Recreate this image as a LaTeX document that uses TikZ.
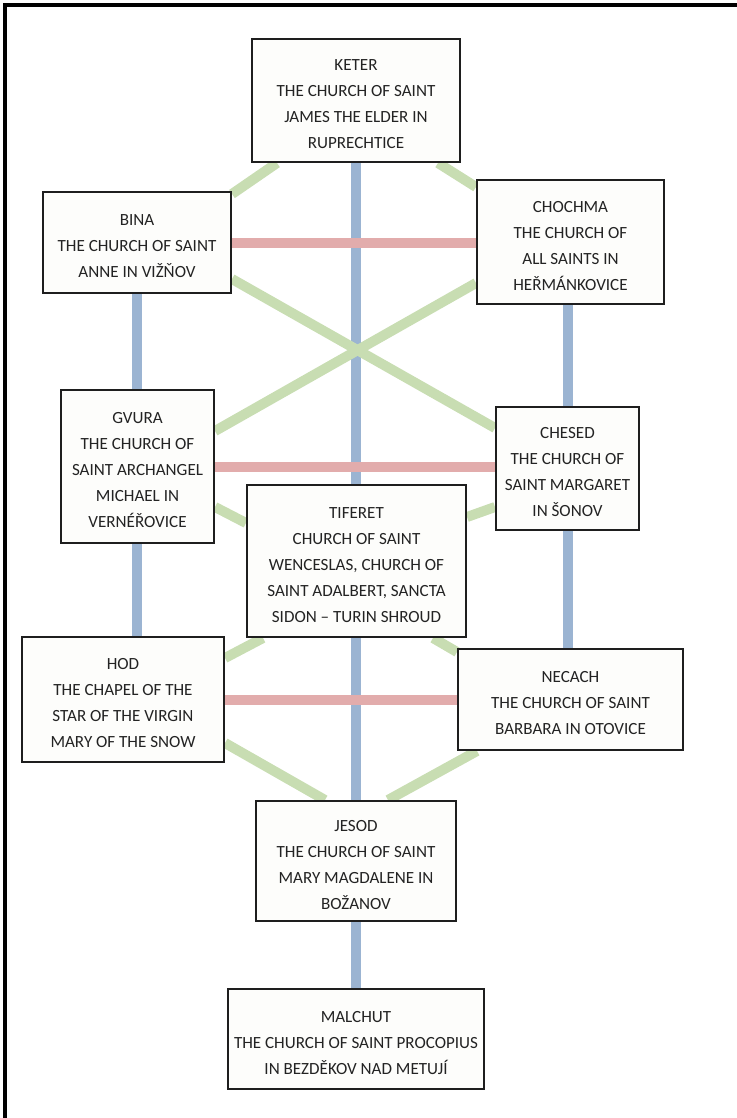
\documentclass[tikz,border=0pt]{standalone}
\usepackage{fontspec}
\setmainfont{Carlito}
\usetikzlibrary{calc,backgrounds}
\newcommand{\topgap}{\rule{0pt}{14pt}}

\begin{document}
\begin{tikzpicture}[x=0.75pt,y=-0.75pt,
  sefira/.style={draw=drawColor,line width=1.5pt,fill=fillColor,text=textColor,
    align=center,inner sep=0pt,font=\fontsize{12.8}{19.5}\selectfont},
  boxsize/.style 2 args={minimum width=#1*0.75pt,minimum height=#2*0.75pt},
  pillar/.style={draw=blueColor,line width=7.5pt},
  bridge/.style={draw=redColor,line width=7.5pt},
  channel/.style={draw=greenColor,line width=7.5pt}]
\definecolor{drawColor}{RGB}{30,30,30}
\definecolor{textColor}{RGB}{35,35,35}
\definecolor{fillColor}{RGB}{253,253,251}
\definecolor{blueColor}{RGB}{155,180,210}
\definecolor{redColor}{RGB}{226,172,172}
\definecolor{greenColor}{RGB}{200,221,178}
\path[use as bounding box] (0,0) rectangle (737,1118);
\draw[line width=2.4pt] (5,1118) -- (5,5) -- (737,5);

\node[sefira,boxsize={208}{123}] (keter) at (356,100.5) {\topgap KETER\\THE CHURCH OF SAINT\\JAMES THE ELDER IN\\RUPRECHTICE};
\node[sefira,boxsize={188}{101}] (bina) at (137,242.5) {\topgap BINA\\THE CHURCH OF SAINT\\ANNE IN VIŽŇOV};
\node[sefira,boxsize={187}{124}] (chochma) at (570.5,242) {\topgap CHOCHMA\\THE CHURCH OF\\ALL SAINTS IN\\HEŘMÁNKOVICE};
\node[sefira,boxsize={153}{153}] (gvura) at (137.5,466.5) {\topgap GVURA\\THE CHURCH OF\\SAINT ARCHANGEL\\MICHAEL IN\\VERNÉŘOVICE};
\node[sefira,boxsize={143}{123}] (chesed) at (567.5,468.5) {\topgap CHESED\\THE CHURCH OF\\SAINT MARGARET\\IN ŠONOV};
\node[sefira,boxsize={219}{152}] (tiferet) at (356.5,561) {\topgap TIFERET\\CHURCH OF SAINT\\WENCESLAS, CHURCH OF\\SAINT ADALBERT, SANCTA\\SIDON – TURIN SHROUD};
\node[sefira,boxsize={202}{125}] (hod) at (123,699.5) {\topgap HOD\\THE CHAPEL OF THE\\STAR OF THE VIRGIN\\MARY OF THE SNOW};
\node[sefira,boxsize={225}{101}] (necach) at (570.5,699.5) {\topgap NECACH\\THE CHURCH OF SAINT\\BARBARA IN OTOVICE};
\node[sefira,boxsize={200}{120}] (jesod) at (356,861) {\topgap JESOD\\THE CHURCH OF SAINT\\MARY MAGDALENE IN\\BOŽANOV};
\node[sefira,boxsize={256}{100}] (malchut) at (356,1039) {\topgap MALCHUT\\THE CHURCH OF SAINT PROCOPIUS\\IN BEZDĚKOV NAD METUJÍ};

\begin{scope}[on background layer]
% pillars
\draw[pillar] (keter.south) -- (keter.south |- tiferet.north);
\draw[pillar] (keter.south |- tiferet.south) -- (keter.south |- jesod.north);
\draw[pillar] (keter.south |- jesod.south) -- (keter.south |- malchut.north);
\draw[pillar] (bina.south) -- (bina.south |- gvura.north);
\draw[pillar] (bina.south |- gvura.south) -- (bina.south |- hod.north);
\draw[pillar] (chesed.north) -- (chesed.north |- chochma.south);
\draw[pillar] (chesed.south) -- (chesed.south |- necach.north);
% bridges
\draw[bridge] (bina.east) -- (bina.east -| chochma.west);
\draw[bridge] (gvura.east) -- (gvura.east -| chesed.west);
\draw[bridge] (hod.east) -- (hod.east -| necach.west);
% channels
\draw[channel] ($(keter.south)+(-79,0)$) -- ($(bina.east)+(0,-48.5)$);
\draw[channel] ($(keter.south)+(82,0)$) -- ($(chochma.west)+(0,-55)$);
\draw[channel] ($(bina.east)+(0,36.5)$) -- ($(chesed.west)+(0,-40.5)$);
\draw[channel] ($(chochma.west)+(0,41)$) -- ($(gvura.east)+(0,-35.5)$);
\draw[channel] ($(gvura.east)+(0,40.5)$) -- ($(tiferet.west)+(0,-38)$);
\draw[channel] ($(chesed.west)+(0,38.5)$) -- ($(tiferet.east)+(0,-44)$);
\draw[channel] ($(tiferet.south)+(-93.5,0)$) -- ($(hod.east)+(0,-41.5)$);
\draw[channel] ($(tiferet.south)+(76.5,0)$) -- ($(necach.west)+(0,-47.5)$);
\draw[channel] ($(hod.east)+(0,43.5)$) -- ($(jesod.north)+(-31,0)$);
\draw[channel] ($(necach.south)+(-93.5,0)$) -- ($(jesod.north)+(32,0)$);
\end{scope}
\end{tikzpicture}
\end{document}
